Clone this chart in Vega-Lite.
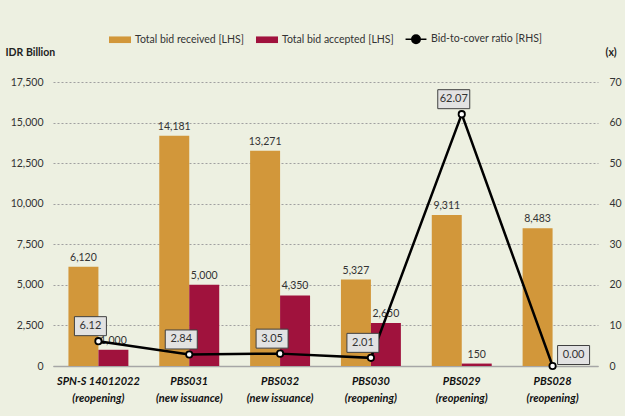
{
  "$schema": "https://vega.github.io/schema/vega-lite/v6.json",
  "width": 545,
  "height": 284,
  "autosize": {"type": "none"},
  "padding": {"left": 53, "top": 82, "right": 27, "bottom": 50},
  "background": "#EDF0E1",
  "config": {
    "view": {"stroke": null},
    "font": "Lato",
    "axis": {"labelFont": "Lato", "titleFont": "Lato", "labelColor": "#333333", "titleColor": "#222222", "labelFontSize": 10.5},
    "text": {"font": "Lato"},
    "legend": {
      "orient": "none",
      "legendX": 55,
      "legendY": -55,
      "direction": "horizontal",
      "symbolSize": 484,
      "labelFont": "Lato",
      "labelFontSize": 10.5,
      "labelColor": "#333333",
      "labelOffset": 3,
      "columnPadding": 8
    }
  },
  "datasets": {
    "bids": [
      {"cat": "SPN-S 14012022 (reopening)", "series": "Total bid received [LHS]", "value": 6120},
      {"cat": "SPN-S 14012022 (reopening)", "series": "Total bid accepted [LHS]", "value": 1000},
      {"cat": "PBS031 (new issuance)", "series": "Total bid received [LHS]", "value": 14181},
      {"cat": "PBS031 (new issuance)", "series": "Total bid accepted [LHS]", "value": 5000},
      {"cat": "PBS032 (new issuance)", "series": "Total bid received [LHS]", "value": 13271},
      {"cat": "PBS032 (new issuance)", "series": "Total bid accepted [LHS]", "value": 4350},
      {"cat": "PBS030 (reopening)", "series": "Total bid received [LHS]", "value": 5327},
      {"cat": "PBS030 (reopening)", "series": "Total bid accepted [LHS]", "value": 2650},
      {"cat": "PBS029 (reopening)", "series": "Total bid received [LHS]", "value": 9311},
      {"cat": "PBS029 (reopening)", "series": "Total bid accepted [LHS]", "value": 150},
      {"cat": "PBS028 (reopening)", "series": "Total bid received [LHS]", "value": 8483},
      {"cat": "PBS028 (reopening)", "series": "Total bid accepted [LHS]", "value": 0}
    ],
    "ratio": [
      {"cat": "SPN-S 14012022 (reopening)", "ratio": 6.12},
      {"cat": "PBS031 (new issuance)", "ratio": 2.84},
      {"cat": "PBS032 (new issuance)", "ratio": 3.05},
      {"cat": "PBS030 (reopening)", "ratio": 2.01},
      {"cat": "PBS029 (reopening)", "ratio": 62.07},
      {"cat": "PBS028 (reopening)", "ratio": 0.0}
    ]
  },
  "encoding": {
    "x": {
      "field": "cat",
      "type": "nominal",
      "scale": {
        "domain": ["SPN-S 14012022 (reopening)", "PBS031 (new issuance)", "PBS032 (new issuance)", "PBS030 (reopening)", "PBS029 (reopening)", "PBS028 (reopening)"],
        "paddingInner": 0.34,
        "paddingOuter": 0.17
      },
      "axis": {
        "title": null,
        "labelAngle": 0,
        "labelFontWeight": "bold",
        "labelFontStyle": "italic",
        "labelFontSize": 11,
        "labelColor": "#111111",
        "labelPadding": 9,
        "labelLineHeight": 17,
        "ticks": false,
        "domain": true,
        "domainColor": "#A6A6A6",
        "domainWidth": 1.5,
        "grid": false,
        "labelExpr": "[substring(datum.label, 0, indexof(datum.label, ' (')), substring(datum.label, indexof(datum.label, ' (') + 1)]"
      }
    }
  },
  "layer": [
    {
      "data": {"name": "bids"},
      "encoding": {
        "y": {
          "field": "value",
          "type": "quantitative",
          "scale": {"domain": [0, 17500], "nice": false},
          "axis": {
            "values": [0, 2500, 5000, 7500, 10000, 12500, 15000, 17500],
            "labelExpr": "format(datum.value, ',')",
            "title": "IDR Billion",
            "titleAngle": 0,
            "titleAlign": "left",
            "titleBaseline": "middle",
            "titleX": -48,
            "titleY": -30,
            "titleFontWeight": "bold",
            "titleFontSize": 10.5,
            "grid": true,
            "gridColor": "#A0A0A0",
            "gridDash": [2, 2],
            "ticks": false,
            "domain": false,
            "labelPadding": 10
          }
        },
        "xOffset": {
          "field": "series",
          "type": "nominal",
          "scale": {"domain": ["Total bid received [LHS]", "Total bid accepted [LHS]"], "paddingInner": 0, "paddingOuter": 0}
        }
      },
      "layer": [
        {
          "mark": {"type": "bar"},
          "encoding": {
            "color": {
              "field": "series",
              "type": "nominal",
              "scale": {
                "domain": ["Total bid received [LHS]", "Total bid accepted [LHS]", "Bid-to-cover ratio [RHS]"],
                "range": ["#D2973A", "#A0123D", "#000000"]
              },
              "legend": {
                "title": null,
                "encode": {
                  "symbols": {
                    "update": {
                      "shape": {"signal": "datum.value === 'Bid-to-cover ratio [RHS]' ? 'M-0.95,0L-0.38,0M0.38,0L0.95,0M0.38,0A0.38,0.38,0,1,1,-0.38,0A0.38,0.38,0,1,1,0.38,0Z' : 'M-1,-0.3L1,-0.3L1,0.3L-1,0.3Z'"},
                      "fill": {"signal": "datum.value === 'Bid-to-cover ratio [RHS]' ? '#ffffff' : (datum.value === 'Total bid received [LHS]' ? '#D2973A' : '#A0123D')"},
                      "stroke": {"signal": "datum.value === 'Bid-to-cover ratio [RHS]' ? '#000000' : 'transparent'"},
                      "strokeWidth": {"value": 1.6},
                      "opacity": {"value": 1},
                      "fillOpacity": {"value": 1}
                    }
                  }
                }
              }
            }
          }
        },
        {
          "transform": [{"filter": "datum.value > 0"}],
          "mark": {"type": "text", "baseline": "bottom", "dy": -4, "fontSize": 10.5, "color": "#333333"},
          "encoding": {
            "text": {"field": "value", "type": "quantitative", "format": ","}
          }
        }
      ]
    },
    {
      "data": {"name": "ratio"},
      "encoding": {
        "y": {
          "field": "ratio",
          "type": "quantitative",
          "scale": {"domain": [0, 70], "nice": false},
          "axis": {
            "orient": "right",
            "values": [0, 10, 20, 30, 40, 50, 60, 70],
            "labelExpr": "format(datum.value, 'd')",
            "title": "(x)",
            "titleAngle": 0,
            "titleAlign": "left",
            "titleBaseline": "middle",
            "titleX": 7,
            "titleY": -30,
            "titleFontWeight": "bold",
            "titleFontSize": 10.5,
            "grid": false,
            "ticks": false,
            "domain": false,
            "labelPadding": 11
          }
        }
      },
      "layer": [
        {"mark": {"type": "line", "color": "#000000", "strokeWidth": 2.5}},
        {"mark": {"type": "point", "shape": "circle", "filled": true, "fill": "#ffffff", "stroke": "#000000", "strokeWidth": 1.8, "size": 40, "opacity": 1}},
        {
          "transform": [{"filter": "datum.ratio > 0"}],
          "mark": {"type": "point", "shape": "M-2.4,-2.45L0.8,-2.45L0.8,-0.55L-2.4,-0.55Z", "filled": true, "fill": "#E2E2E2", "stroke": "#404040", "strokeWidth": 1, "size": 400, "opacity": 1}
        },
        {
          "transform": [{"filter": "datum.ratio > 0"}],
          "mark": {"type": "text", "dx": -8, "dy": -15, "fontSize": 11, "color": "#333333", "baseline": "middle"},
          "encoding": {"text": {"field": "ratio", "type": "quantitative", "format": ".2f"}}
        },
        {
          "transform": [{"filter": "datum.ratio == 0"}],
          "mark": {"type": "point", "shape": "M0.5,-2.05L3.7,-2.05L3.7,-0.15L0.5,-0.15Z", "filled": true, "fill": "#E2E2E2", "stroke": "#404040", "strokeWidth": 1, "size": 400, "opacity": 1}
        },
        {
          "transform": [{"filter": "datum.ratio == 0"}],
          "mark": {"type": "text", "dx": 21, "dy": -11, "fontSize": 11, "color": "#333333", "baseline": "middle"},
          "encoding": {"text": {"field": "ratio", "type": "quantitative", "format": ".2f"}}
        }
      ]
    }
  ],
  "resolve": {"scale": {"y": "independent"}}
}
